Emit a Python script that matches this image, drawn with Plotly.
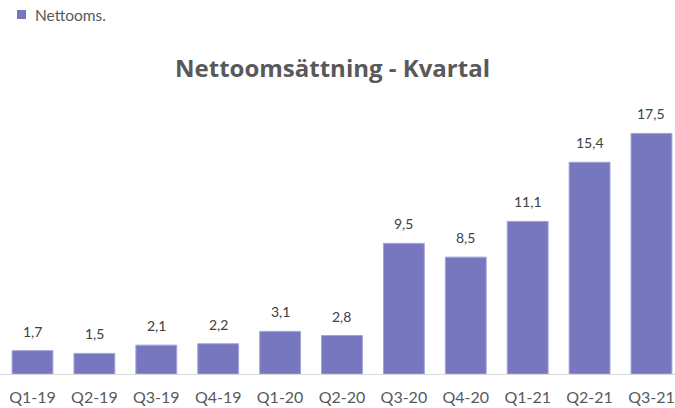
import plotly.graph_objects as go

categories = ["Q1-19", "Q2-19", "Q3-19", "Q4-19", "Q1-20", "Q2-20",
              "Q3-20", "Q4-20", "Q1-21", "Q2-21", "Q3-21"]
values = [1.7, 1.5, 2.1, 2.2, 3.1, 2.8, 9.5, 8.5, 11.1, 15.4, 17.5]
series_name = "Nettooms."
title_text = "Nettoomsättning - Kvartal"

BAR = "#7777BF"
FONT = "Lato, 'Open Sans', sans-serif"

fig = go.Figure()
fig.add_trace(go.Bar(
    x=categories, y=values, name=series_name,
    marker=dict(color=BAR, line=dict(color="#A3A3DA", width=1)),
    showlegend=False,
))

for c, v in zip(categories, values):
    fig.add_annotation(
        x=c, y=v, text=f"{v:.1f}".replace(".", ","),
        showarrow=False, yanchor="bottom", yshift=9,
        font=dict(family=FONT, size=14, color="#404040"),
    )

# legend key (drawn in paper coordinates above the plot area)
fig.add_shape(type="rect", xref="paper", yref="paper",
              x0=0.0252, x1=0.0385, y0=1.2956, y1=1.3285,
              fillcolor=BAR, line=dict(width=0))
fig.add_annotation(xref="paper", yref="paper", x=0.0489, y=1.312,
                   xanchor="left", yanchor="middle", showarrow=False,
                   text=series_name,
                   font=dict(family=FONT, size=15.5, color="#595959"))

fig.update_layout(
    width=675, height=408,
    margin=dict(l=0, r=0, t=100, b=34, autoexpand=False),
    paper_bgcolor="white", plot_bgcolor="white",
    bargap=0.34,
    showlegend=False,
    title=dict(text=title_text, x=0.4926, xanchor="center", y=0.833, yanchor="middle",
               font=dict(family="'Open Sans', Lato, sans-serif", size=24, color="#595959",
                         weight="bold")),
    xaxis=dict(range=[-0.525, 10.38], showline=True, linecolor="#D9D9D9", linewidth=1,
               ticks="outside", ticklen=9, tickcolor="rgba(0,0,0,0)",
               tickfont=dict(family=FONT, size=16, color="#595959"),
               showgrid=False, zeroline=False, fixedrange=True, automargin=False),
    yaxis=dict(range=[0, 19.93], visible=False, showgrid=False, zeroline=False,
               automargin=False),
)

fig.write_html("out.html", config={"displayModeBar": False},
               post_script="document.body.style.margin='0';")
